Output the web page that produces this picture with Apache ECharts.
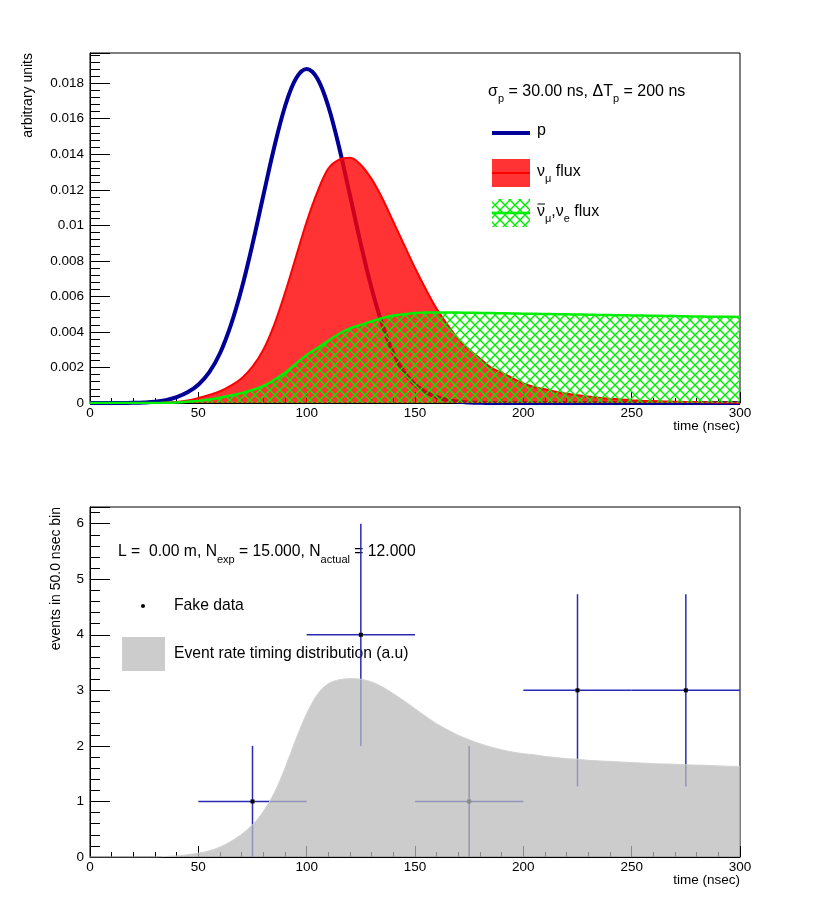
<!DOCTYPE html>
<html>
<head>
<meta charset="utf-8">
<title>neutrino timing</title>
<script src="https://cdn.jsdelivr.net/npm/echarts@6.0.0/dist/echarts.min.js"></script>
<style>
  html, body { margin: 0; padding: 0; background: #fff; }
  #main { width: 830px; height: 910px; }
</style>
</head>
<body>
<div id="main"></div>
<script>
// time grid, 5 ns steps (0..300)
var timeNs = [0,5,10,15,20,25,30,35,40,45,50,55,60,65,70,75,80,85,90,95,100,
  105,110,115,120,125,130,135,140,145,150,155,160,165,170,175,180,185,190,195,200,
  205,210,215,220,225,230,235,240,245,250,255,260,265,270,275,280,285,290,295,300];

// proton pulse
var pFlux = [0,0,0,0,0.00001,0.00003,0.00007,0.00016,0.00033,0.0006,0.00103,
  0.00172,0.0028,0.00438,0.00644,0.00894,0.01168,0.01438,0.01669,0.01825,0.0188,
  0.01825,0.01669,0.01438,0.01168,0.00894,0.00644,0.00438,0.0028,0.00172,0.00103,
  0.0006,0.00033,0.00016,0.00007,0.00003,0.00001,0,0,0,0,
  0,0,0,0,0,0,0,0,0,0,0,0,0,0,0,0,0,0,0,0];

// nu_mu flux
var numuFlux = [0,0,0,0,0,0,0,0.00002,0.00006,0.00014,0.00028,
  0.00045,0.00066,0.00098,0.0014,0.00205,0.003,0.0044,0.0062,0.0082,0.0102,
  0.0119,0.0132,0.0137,0.0138,0.0134,0.0126,0.0115,0.0102,0.0089,0.0076,
  0.0064,0.0053,0.0044,0.0036,0.003,0.0025,0.002,0.0017,0.0014,0.0011,
  0.0009,0.00077,0.00063,0.00052,0.00043,0.00036,0.00029,0.00024,0.0002,0.00016,
  0.00013,0.00011,0.00009,0.00007,0.00006,0.00005,0.00004,0.00003,0.00003,0.00002];

// anti nu_mu, nu_e flux
var nuebarFlux = [0,0,0,0,0,0,0,0.00001,0.00003,0.00007,0.00012,
  0.0002,0.0003,0.00042,0.00056,0.00073,0.00096,0.0013,0.0017,0.0022,0.0027,
  0.0031,0.0035,0.0039,0.0042,0.0044,0.0046,0.00478,0.00492,0.005,0.00506,
  0.00509,0.0051,0.0051,0.00509,0.00508,0.00507,0.00506,0.00505,0.00504,0.00503,
  0.00502,0.00501,0.005,0.00499,0.00498,0.00497,0.00496,0.00495,0.00494,0.00493,
  0.00492,0.00491,0.0049,0.00489,0.00488,0.00487,0.00486,0.00485,0.00485,0.00484];

// event rate timing distribution (a.u)
var eventRate = [0,0,0,0,0,0,0,0.01,0.02,0.04,0.07,
  0.11,0.18,0.28,0.41,0.58,0.82,1.15,1.6,2.12,2.58,
  2.93,3.12,3.19,3.21,3.2,3.15,3.06,2.94,2.81,2.67,
  2.53,2.4,2.29,2.19,2.11,2.04,1.98,1.93,1.89,1.86,
  1.84,1.81,1.79,1.77,1.76,1.74,1.73,1.72,1.71,1.7,
  1.69,1.68,1.675,1.67,1.66,1.655,1.65,1.64,1.635,1.63];

// fake data, 50 ns bins
var binCenters = [75, 125, 175, 225, 275];
var binCounts  = [1, 4, 1, 3, 3];
var binErrors  = [1, 2, 1, 1.73, 1.73];
var binHalf = 25;

var FONT = 'Liberation Sans';

function pairs(xs, ys){
  var out = [];
  for (var i = 0; i < xs.length; i++) out.push([xs[i], ys[i]]);
  return out;
}

function makePattern(w, h, draw){
  var c = document.createElement('canvas');
  c.width = w; c.height = h;
  draw(c.getContext('2d'));
  return { image: c, repeat: 'repeat' };
}

// crosshatch for the anti-neutrino flux
var greenPattern = makePattern(10, 10, function(ctx){
  ctx.strokeStyle = '#00ee00'; ctx.lineWidth = 1.4;
  ctx.beginPath();
  ctx.moveTo(-1, -1); ctx.lineTo(11, 11);
  ctx.moveTo(11, -1); ctx.lineTo(-1, 11);
  ctx.stroke();
});
// see-through fills, so what is drawn below still shows a little
var redFill = 'rgba(255,0,0,0.8)';
var grayFill = 'rgba(186,186,186,0.74)';

var myChart = echarts.init(document.getElementById('main'));

function xAxisCfg(idx){
  return {
    type: 'value', gridIndex: idx, min: 0, max: 300, interval: 50,
    axisLine: { lineStyle: { color: '#000', width: 1 } },
    axisTick: { inside: true, length: 11, lineStyle: { color: '#000' } },
    minorTick: { show: true, splitNumber: 5, length: 5, lineStyle: { color: '#000' } },
    splitLine: { show: false },
    axisLabel: { color: '#000', fontFamily: FONT, fontSize: 13.5, margin: 3 }
  };
}

// rich styles: a = normal text, b = subscript
var sub = function(big, small, lh){
  return {
    a: { fontFamily: FONT, fontSize: big, lineHeight: lh, fill: '#000' },
    b: { fontFamily: FONT, fontSize: small, lineHeight: small + 1, verticalAlign: 'bottom', fill: '#000' }
  };
};

var option = {
  animation: false,
  backgroundColor: '#fff',
  grid: [
    { left: 90, top: 53, width: 650, height: 350, show: true, borderColor: '#000', borderWidth: 1, backgroundColor: 'transparent' },
    { left: 90, top: 507, width: 650, height: 350, show: true, borderColor: '#000', borderWidth: 1, backgroundColor: 'transparent' }
  ],
  xAxis: [ xAxisCfg(0), xAxisCfg(1) ],
  yAxis: [
    {
      type: 'value', gridIndex: 0, min: 0, max: 0.0197, interval: 0.002,
      axisLine: { show: true, lineStyle: { color: '#000', width: 1 } },
      axisTick: { show: true, inside: true, length: 20, lineStyle: { color: '#000' } },
      minorTick: { show: true, splitNumber: 5, length: 10, lineStyle: { color: '#000' } },
      splitLine: { show: false },
      axisLabel: {
        color: '#000', fontFamily: FONT, fontSize: 13.5, margin: 6, showMaxLabel: false,
        formatter: function(v){
          var k = Math.round(v / 0.002);
          if (Math.abs(v - k * 0.002) > 1e-9) return '';
          if (k === 0) return '0';
          return String(+(k * 0.002).toFixed(3));
        }
      }
    },
    {
      type: 'value', gridIndex: 1, min: 0, max: 6.3, interval: 1,
      axisLine: { show: true, lineStyle: { color: '#000', width: 1 } },
      axisTick: { show: true, inside: true, length: 20, lineStyle: { color: '#000' } },
      minorTick: { show: true, splitNumber: 5, length: 10, lineStyle: { color: '#000' } },
      splitLine: { show: false },
      axisLabel: {
        color: '#000', fontFamily: FONT, fontSize: 13.5, margin: 6, showMaxLabel: false,
        formatter: function(v){ return Math.abs(v - Math.round(v)) < 1e-9 ? String(Math.round(v)) : ''; }
      }
    }
  ],
  series: [
    {
      name: 'p', type: 'line', xAxisIndex: 0, yAxisIndex: 0, z: 2,
      data: pairs(timeNs, pFlux), showSymbol: false, smooth: 0.35,
      lineStyle: { color: '#000099', width: 4, join: 'round' }
    },
    {
      name: 'numu', type: 'line', xAxisIndex: 0, yAxisIndex: 0, z: 3,
      data: pairs(timeNs, numuFlux), showSymbol: false, smooth: 0.35,
      lineStyle: { color: '#ff0000', width: 2 },
      areaStyle: { color: redFill, opacity: 1 }
    },
    {
      name: 'nuebar', type: 'line', xAxisIndex: 0, yAxisIndex: 0, z: 4,
      data: pairs(timeNs, nuebarFlux), showSymbol: false, smooth: 0.35,
      lineStyle: { color: '#00ee00', width: 2.5 },
      areaStyle: { color: greenPattern, opacity: 1 }
    },
    {
      name: 'Fake data', type: 'custom', xAxisIndex: 1, yAxisIndex: 1, z: 2,
      data: binCenters.map(function(c, i){ return [c, binCounts[i], binErrors[i]]; }),
      renderItem: function(params, api){
        var x = api.value(0), y = api.value(1), e = api.value(2);
        var c = api.coord([x, y]);
        var l = api.coord([x - binHalf, y]);
        var r = api.coord([x + binHalf, y]);
        var lo = api.coord([x, y - e]);
        var hi = api.coord([x, y + e]);
        var st = { stroke: '#2a2ab4', lineWidth: 1.5 };
        return { type: 'group', children: [
          { type: 'line', shape: { x1: l[0], y1: l[1], x2: r[0], y2: r[1] }, style: st },
          { type: 'line', shape: { x1: lo[0], y1: lo[1], x2: hi[0], y2: hi[1] }, style: st },
          { type: 'rect', shape: { x: c[0] - 2, y: c[1] - 2, width: 4, height: 4 }, style: { fill: '#000' } }
        ]};
      }
    },
    {
      name: 'Event rate', type: 'line', xAxisIndex: 1, yAxisIndex: 1, z: 3,
      data: pairs(timeNs, eventRate), showSymbol: false, smooth: 0.35,
      lineStyle: { color: '#d2d2d2', width: 1 },
      areaStyle: { color: grayFill, opacity: 1 }
    }
  ],
  graphic: [
    // axis titles
    { type: 'text', x: 28, y: 53, rotation: Math.PI / 2,
      style: { text: 'arbitrary units', fontFamily: FONT, fontSize: 14, fill: '#000', align: 'right', verticalAlign: 'middle' } },
    { type: 'text', x: 740, y: 426,
      style: { text: 'time (nsec)', fontFamily: FONT, fontSize: 13.5, fill: '#000', align: 'right', verticalAlign: 'middle' } },
    { type: 'text', x: 56, y: 507, rotation: Math.PI / 2,
      style: { text: 'events in 50.0 nsec bin', fontFamily: FONT, fontSize: 14, fill: '#000', align: 'right', verticalAlign: 'middle' } },
    { type: 'text', x: 740, y: 880,
      style: { text: 'time (nsec)', fontFamily: FONT, fontSize: 13.5, fill: '#000', align: 'right', verticalAlign: 'middle' } },

    // top legend
    { type: 'text', x: 488, y: 92,
      style: { text: '{a|σ}{b|p}{a| = 30.00 ns, ΔT}{b|p}{a| = 200 ns}', rich: sub(16, 11, 25), verticalAlign: 'middle', align: 'left' } },
    { type: 'line', shape: { x1: 492, y1: 133, x2: 530, y2: 133 }, style: { stroke: '#000099', lineWidth: 4 } },
    { type: 'text', x: 537, y: 131,
      style: { text: 'p', fontFamily: FONT, fontSize: 16, fill: '#000', verticalAlign: 'middle' } },
    { type: 'rect', shape: { x: 492, y: 159, width: 38, height: 28 }, style: { fill: redFill } },
    { type: 'line', shape: { x1: 492, y1: 173, x2: 530, y2: 173 }, style: { stroke: '#ff0000', lineWidth: 2 } },
    { type: 'text', x: 537, y: 172,
      style: { text: '{a|ν}{b|μ}{a| flux}', rich: sub(16, 11, 25), verticalAlign: 'middle' } },
    { type: 'rect', shape: { x: 492, y: 199, width: 38, height: 28 }, style: { fill: greenPattern } },
    { type: 'line', shape: { x1: 492, y1: 213, x2: 530, y2: 213 }, style: { stroke: '#00ee00', lineWidth: 2.5 } },
    { type: 'text', x: 537, y: 212,
      style: { text: '{a|ν}{b|μ}{a|,ν}{b|e}{a| flux}', rich: sub(16, 11, 25), verticalAlign: 'middle' } },
    // overbar of anti-neutrino
    { type: 'line', shape: { x1: 537.5, y1: 204, x2: 545, y2: 204 }, style: { stroke: '#000', lineWidth: 1 } },

    // bottom legend
    { type: 'text', x: 118, y: 552,
      style: { text: '{a|L =  0.00 m, N}{b|exp}{a| = 15.000, N}{b|actual}{a| = 12.000}', rich: sub(15.7, 11, 27), verticalAlign: 'middle' } },
    { type: 'circle', shape: { cx: 143, cy: 606, r: 2 }, style: { fill: '#000' } },
    { type: 'text', x: 174, y: 606,
      style: { text: 'Fake data', fontFamily: FONT, fontSize: 15.7, fill: '#000', verticalAlign: 'middle' } },
    { type: 'rect', shape: { x: 122, y: 637, width: 43, height: 34 }, style: { fill: grayFill } },
    { type: 'text', x: 174, y: 654,
      style: { text: 'Event rate timing distribution (a.u)', fontFamily: FONT, fontSize: 15.7, fill: '#000', verticalAlign: 'middle' } }
  ]
};

myChart.setOption(option);
</script>
</body>
</html>
